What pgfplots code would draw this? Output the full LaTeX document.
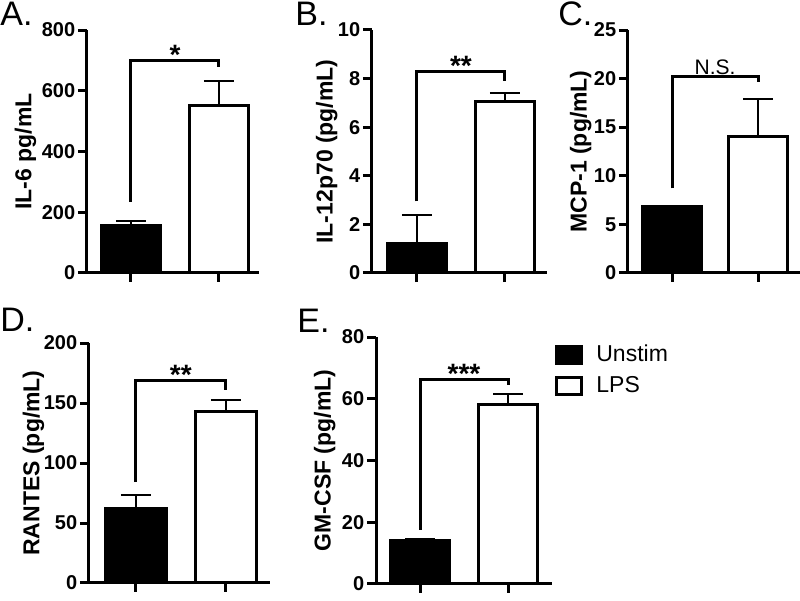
\documentclass[border=0pt]{standalone}
\usepackage{fontspec}
\setmainfont{Liberation Sans}
\usepackage{pgfplots}
\pgfplotsset{compat=1.18}

\pgfplotsset{
  panel/.style={
    scale only axis,
    axis x line=bottom, axis y line=left,
    axis line style={-, line width=1.5pt},
    every tick/.style={black, line width=1.5pt},
    tick align=outside, major tick length=4.5pt,
    xtick={1,2}, xticklabels={},
    ymin=0,
    ybar, bar width=0.68, bar shift=0pt,
    clip=false,
    ticklabel style={font=\fontsize{10}{12}\selectfont\bfseries},
    y tick label style={inner xsep=1.2pt},
    /pgf/number format/assume math mode=true,
    ylabel style={font=\fontsize{11.5}{13}\selectfont\bfseries},
  },
  barbase/.style={line width=1.5pt, draw=black,
    error bars/y dir=plus, error bars/y explicit,
    error bars/error bar style={line width=1pt, black},
    error bars/error mark options={rotate=90, black, line width=1pt, mark size=7.5pt},
    legend image code/.code={\draw[##1, line width=1.5pt] (0pt,-4.25pt) rectangle (12.5pt,4.25pt); \path (17pt,0pt);}},
  unstim/.style={barbase, fill=black},
  lps/.style={barbase, fill=white},
  bracket/.style={sharp plot, mark=none, black, line width=1.5pt, fill=none},
}
\tikzset{
  sig/.style={font=\fontsize{14}{16}\selectfont\bfseries, anchor=base, yshift=-2pt},
  lab/.style={font=\fontsize{17}{20}\selectfont, anchor=base west, inner sep=0pt},
}

\begin{document}
\begin{tikzpicture}
\path[use as bounding box] (0pt,0pt) rectangle (400pt,300.5pt);

% A. IL-6
\begin{axis}[panel, at={(43.5pt,164pt)}, anchor=south west,
  width=86pt, height=121.5pt, xmin=0.5, xmax=2.455,
  ymax=800, ytick={0,200,...,800}, ylabel={IL-6 pg/mL}, ylabel shift=-2pt]
  \addplot[unstim] coordinates {(1,157) +- (0,13)};
  \addplot[lps] coordinates {(2,550) +- (0,82)};
  \addplot[bracket] coordinates {(1,235) (1,701) (2,701) (2,679)};
  \node[sig] at (axis cs:1.5,701) {*};
\end{axis}

% B. IL-12p70
\begin{axis}[panel, at={(186pt,164pt)}, anchor=south west,
  width=87.5pt, height=121.5pt, xmin=0.489, xmax=2.478,
  ymax=10, ytick={0,2,...,10}, ylabel={IL-12p70 (pg/mL)}, ylabel shift=-4.5pt]
  \addplot[unstim] coordinates {(1,1.23) +- (0,1.17)};
  \addplot[lps] coordinates {(2,7.05) +- (0,0.37)};
  \addplot[bracket] coordinates {(1,2.95) (1,8.3) (2,8.3) (2,7.9)};
  \node[sig] at (axis cs:1.5,8.3) {**};
\end{axis}

% C. MCP-1
\begin{axis}[panel, at={(314pt,164pt)}, anchor=south west,
  width=86pt, height=121.5pt, xmin=0.488, xmax=2.488,
  ymax=25, ytick={0,5,...,25}, ylabel={MCP-1 (pg/mL)}, ylabel shift=-3.5pt]
  \addplot[unstim] coordinates {(1,6.8) +- (0,0)};
  \addplot[lps] coordinates {(2,14.0) +- (0,3.9)};
  \addplot[bracket] coordinates {(1,8.7) (1,20.2) (2,20.2) (2,19.6)};
  \node[font=\fontsize{10.5}{12}\selectfont, anchor=base, yshift=1pt] at (axis cs:1.5,20.2) {N.S.};
\end{axis}

% D. RANTES
\begin{axis}[panel, at={(44.5pt,9pt)}, anchor=south west,
  width=90.5pt, height=120pt, xmin=0.48, xmax=2.49,
  ymax=200, ytick={0,50,...,200}, ylabel={RANTES (pg/mL)}, ylabel shift=-5pt]
  \addplot[unstim] coordinates {(1,62) +- (0,11)};
  \addplot[lps] coordinates {(2,143) +- (0,9.5)};
  \addplot[bracket] coordinates {(1,84) (1,169) (2,169) (2,161)};
  \node[sig] at (axis cs:1.5,169) {**};
\end{axis}

% E. GM-CSF
\begin{axis}[panel, at={(188pt,8.5pt)}, anchor=south west,
  width=88pt, height=123.5pt, xmin=0.5, xmax=2.5,
  ymax=80, ytick={0,20,...,80}, ylabel={GM-CSF (pg/mL)}, ylabel shift=-1.5pt,
  legend style={draw=none, fill=none, at={(1.017,0.985)}, anchor=north west,
    font=\fontsize{11.5}{13}\selectfont, row sep=2pt, inner sep=0pt,
    cells={anchor=west}}]
  \addplot[unstim] coordinates {(1,14.0) +- (0,0.5)};
  \addplot[lps] coordinates {(2,58.2) +- (0,3.2)};
  \addplot[bracket] coordinates {(1,17.5) (1,66.2) (2,66.2) (2,64.5)};
  \node[sig] at (axis cs:1.5,66.2) {***};
  \legend{Unstim,LPS}
\end{axis}

\node[lab] at (0pt,287.5pt) {A.};
\node[lab] at (147.5pt,287.5pt) {B.};
\node[lab] at (279pt,287.5pt) {C.};
\node[lab] at (0pt,134.5pt) {D.};
\node[lab] at (148.5pt,134pt) {E.};
\end{tikzpicture}
\end{document}
